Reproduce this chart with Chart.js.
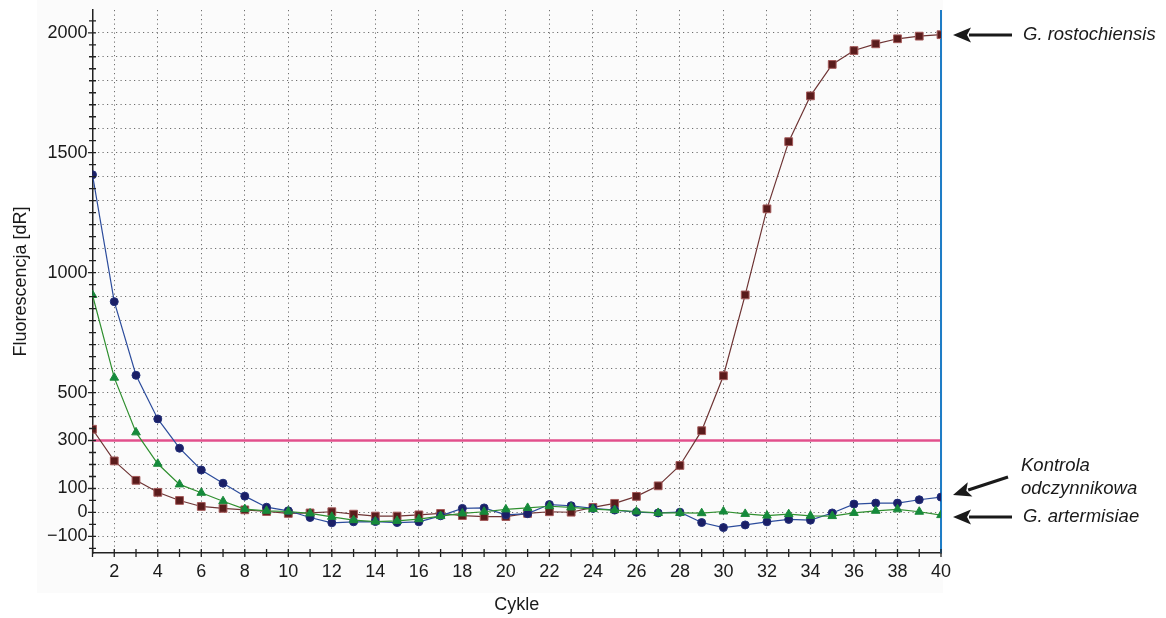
<!doctype html>
<html>
<head>
<meta charset="utf-8">
<title>Fluorescencja - Cykle</title>
<script src="https://cdn.jsdelivr.net/npm/chart.js@4.4.0/dist/chart.umd.min.js"></script>
<style>
	body { margin: 0; background: #fff; }
	#wrap { width: 1166px; height: 618px; }
</style>
</head>
<body>
<div id="wrap"><canvas id="canvas" width="1166" height="618"></canvas></div>
<script>
	// cycle numbers and fluorescence per sample
	var cycles = [];
	for (var c = 1; c <= 40; c++) cycles.push(c);

	var kontrola = [1408, 879, 572, 390, 268, 177, 122, 68, 22, 7, -21, -43, -39, -38, -42, -39, -14, 17, 19, -10,
		-5, 33, 28, 17, 10, 1, -2, 1, -42, -63, -52, -39, -29, -32, -2, 35, 39, 39, 53, 64];
	var artermisiae = [907, 562, 334, 203, 117, 82, 47, 14, 7, 4, -4, -18, -32, -38, -35, -28, -15, -4, 3, 13,
		19, 26, 21, 14, 10, 4, -2, -2, -3, 4, -6, -13, -7, -14, -15, -2, 7, 13, 3, -11];
	var rostochiensis = [347, 215, 134, 84, 50, 25, 17, 11, 4, -4, -2, 3, -7, -15, -15, -10, -4, -13, -17, -17,
		-4, 3, 1, 21, 38, 67, 111, 196, 341, 570, 907, 1266, 1546, 1737, 1868, 1926, 1954, 1975, 1986, 1992];

	var threshold = 300;
	var yLabels = [2000, 1500, 1000, 500, 300, 100, 0, -100];
	var xLabels = [2, 4, 6, 8, 10, 12, 14, 16, 18, 20, 22, 24, 26, 28, 30, 32, 34, 36, 38, 40];
	var yTicks = [];
	for (var t = -150; t <= 2050; t += 50) yTicks.push(t);

	// arrows + names on the right
	var notes = [
		{ lines: ['G. rostochiensis'], x: 1023, y: 35, tail: [1012, 35], tip: [953, 35] },
		{ lines: ['Kontrola', 'odczynnikowa'], x: 1021, y: 466, tail: [1008, 477], tip: [953, 495] },
		{ lines: ['G. artermisiae'], x: 1023, y: 517, tail: [1012, 517], tip: [953, 517] }
	];

	function pts(arr) {
		return cycles.map(function (c, i) { return { x: c, y: arr[i] }; });
	}

	function drawArrow(ctx, tail, tip) {
		var dx = tip[0] - tail[0], dy = tip[1] - tail[1];
		var len = Math.sqrt(dx * dx + dy * dy);
		var ux = dx / len, uy = dy / len;
		var hl = 18, hw = 7.5;
		var bx = tip[0] - ux * hl, by = tip[1] - uy * hl;
		ctx.strokeStyle = '#1a1a1a';
		ctx.fillStyle = '#1a1a1a';
		ctx.lineWidth = 3.2;
		ctx.beginPath();
		ctx.moveTo(tail[0], tail[1]);
		ctx.lineTo(bx + ux * 2, by + uy * 2);
		ctx.stroke();
		ctx.beginPath();
		ctx.moveTo(tip[0], tip[1]);
		ctx.lineTo(bx - uy * hw, by + ux * hw);
		ctx.lineTo(bx + ux * 4, by + uy * 4);
		ctx.lineTo(bx + uy * hw, by - ux * hw);
		ctx.closePath();
		ctx.fill();
	}

	var extras = {
		id: 'extras',
		beforeDraw: function (chart) {
			var ctx = chart.ctx;
			ctx.save();
			ctx.fillStyle = '#fff';
			ctx.fillRect(0, 0, chart.width, chart.height);
			ctx.fillStyle = '#fbfbfb';
			ctx.fillRect(37, 0, 906, 593);
			ctx.restore();
		},
		beforeDatasetsDraw: function (chart) {
			var ctx = chart.ctx, a = chart.chartArea;
			var xs = chart.scales.x, ys = chart.scales.y;
			ctx.save();
			// threshold
			var py = ys.getPixelForValue(threshold);
			ctx.strokeStyle = '#e2508c';
			ctx.lineWidth = 2.6;
			ctx.beginPath();
			ctx.moveTo(a.left, py);
			ctx.lineTo(xs.getPixelForValue(40), py);
			ctx.stroke();
			// last cycle marker
			var px = xs.getPixelForValue(40);
			ctx.strokeStyle = '#1f7dc6';
			ctx.lineWidth = 2;
			ctx.beginPath();
			ctx.moveTo(px, a.top);
			ctx.lineTo(px, a.bottom);
			ctx.stroke();
			ctx.restore();
		},
		afterDraw: function (chart) {
			var ctx = chart.ctx, a = chart.chartArea;
			var xs = chart.scales.x, ys = chart.scales.y;
			ctx.save();
			// small ticks crossing both axes
			ctx.strokeStyle = '#222';
			ctx.lineWidth = 1.3;
			ctx.beginPath();
			yTicks.forEach(function (v) {
				var py = ys.getPixelForValue(v);
				var l = yLabels.indexOf(v) >= 0 ? 4.5 : 3.5;
				ctx.moveTo(a.left - l, py);
				ctx.lineTo(a.left + 3.5, py);
			});
			cycles.forEach(function (c) {
				var px = xs.getPixelForValue(c);
				ctx.moveTo(px, a.bottom - 4);
				ctx.lineTo(px, a.bottom + 4);
			});
			ctx.stroke();

			notes.forEach(function (n) {
				drawArrow(ctx, n.tail, n.tip);
				ctx.fillStyle = '#1a1a1a';
				ctx.font = 'italic 18.5px "Liberation Sans", Arial, sans-serif';
				ctx.textBaseline = 'middle';
				ctx.textAlign = 'left';
				n.lines.forEach(function (s, i) {
					ctx.fillText(s, n.x, n.y + i * 23);
				});
			});
			ctx.restore();
		}
	};

	Chart.defaults.font.family = '"Liberation Sans", Arial, sans-serif';
	Chart.defaults.font.size = 18;
	Chart.defaults.color = '#1a1a1a';

	var ctx = document.getElementById('canvas').getContext('2d');
	window.myLine = new Chart(ctx, {
		type: 'line',
		data: {
			datasets: [{
				label: 'G. artermisiae',
				data: pts(artermisiae),
				borderColor: '#2f8f2f',
				backgroundColor: '#148a3c',
				borderWidth: 1.2,
				pointStyle: 'triangle',
				pointRadius: 5,
				pointBorderColor: '#1c8a3a',
				pointBorderWidth: 1,
				tension: 0
			}, {
				label: 'Kontrola odczynnikowa',
				data: pts(kontrola),
				borderColor: '#2c4c9c',
				backgroundColor: '#1b1f66',
				borderWidth: 1.2,
				pointStyle: 'circle',
				pointRadius: 4,
				pointBorderColor: '#22307a',
				pointBorderWidth: 1,
				tension: 0
			}, {
				label: 'G. rostochiensis',
				data: pts(rostochiensis),
				borderColor: '#6e3434',
				backgroundColor: '#5a1c1c',
				borderWidth: 1.2,
				pointStyle: 'rect',
				pointRadius: 5.5,
				pointBorderColor: '#a45a5a',
				pointBorderWidth: 1,
				tension: 0
			}]
		},
		options: {
			responsive: false,
			animation: false,
			events: [],
			layout: { padding: { left: 0, right: 225, top: 10, bottom: 0 } },
			plugins: {
				legend: { display: false },
				tooltip: { enabled: false }
			},
			scales: {
				x: {
					type: 'linear',
					min: 1,
					max: 40,
					afterBuildTicks: function (scale) {
						scale.ticks = cycles.map(function (v) { return { value: v }; });
					},
					afterFit: function (scale) {
						scale.height = 65;
						scale.paddingLeft = 0;
						scale.paddingRight = 0;
					},
					ticks: {
						autoSkip: false,
						maxRotation: 0,
						padding: 8,
						callback: function (v) { return xLabels.indexOf(v) >= 0 ? String(v) : ''; }
					},
					grid: {
						drawTicks: false,
						lineWidth: 1,
						color: function (c) {
							var v = c.tick && c.tick.value;
							return (v % 2 === 0 && v < 40) ? '#6e6e6e' : 'rgba(0,0,0,0)';
						}
					},
					border: { color: '#222', width: 1.5, dash: [1.2, 3.3] },
					title: { display: true, text: 'Cykle', padding: { top: 0, bottom: 2 } }
				},
				y: {
					type: 'linear',
					min: -169,
					max: 2095,
					afterBuildTicks: function (scale) {
						scale.ticks = yTicks.map(function (v) { return { value: v }; });
					},
					afterFit: function (scale) {
						scale.width = 92.5;
						scale.paddingTop = 0;
						scale.paddingBottom = 0;
					},
					ticks: {
						autoSkip: false,
						padding: 5,
						callback: function (v) {
							if (yLabels.indexOf(v) < 0) return '';
							return v < 0 ? '\u2212' + Math.abs(v) : String(v);
						}
					},
					grid: {
						drawTicks: false,
						lineWidth: 1,
						color: function (c) {
							var v = c.tick && c.tick.value;
							return (v % 100 === 0 && v >= -100 && v <= 2000) ? '#6e6e6e' : 'rgba(0,0,0,0)';
						}
					},
					border: { color: '#222', width: 1.5, dash: [1.2, 3.3] },
					title: { display: true, text: 'Fluorescencja [dR]', padding: { top: 10, bottom: 0 } }
				}
			}
		},
		plugins: [extras]
	});
</script>
</body>
</html>
